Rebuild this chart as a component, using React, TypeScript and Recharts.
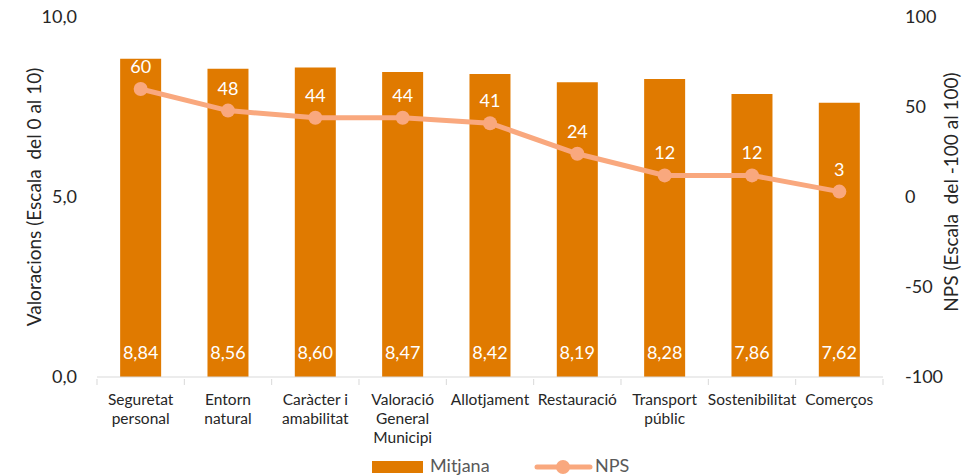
import React from "react";
import {
  ComposedChart,
  Bar,
  Line,
  XAxis,
  YAxis,
  LabelList,
  Legend,
} from "recharts";

const categories = [
  "Seguretat\npersonal",
  "Entorn\nnatural",
  "Caràcter i\namabilitat",
  "Valoració\nGeneral\nMunicipi",
  "Allotjament",
  "Restauració",
  "Transport\npúblic",
  "Sostenibilitat",
  "Comerços",
];
const mitjana = [8.84, 8.56, 8.6, 8.47, 8.42, 8.19, 8.28, 7.86, 7.62];
const nps = [60, 48, 44, 44, 41, 24, 12, 12, 3];
const leftTicks = [0, 5, 10];
const rightTicks = [-100, -50, 0, 50, 100];

const data = categories.map((c, i) => ({ cat: c, Mitjana: mitjana[i], NPS: nps[i] }));

const FONT = "Lato, 'Open Sans', sans-serif";
const BAR = "#E07A00";
const LINE = "#F9A87E";
const TEXT = "#262626";
const AXIS = "#D9D9D9";

const fmt1 = (v: number) => v.toFixed(1).replace(".", ",");
const fmt2 = (v: number) => v.toFixed(2).replace(".", ",");

const CatTick = (props: any) => {
  const { x, y, payload, index } = props;
  const lines = String(payload.value).split("\n");
  const half = 43.67;
  return (
    <g>
      <line x1={x - half} x2={x - half} y1={y - 6} y2={y} stroke={AXIS} />
      {index === categories.length - 1 && (
        <line x1={x + half} x2={x + half} y1={y - 6} y2={y} stroke={AXIS} />
      )}
      {lines.map((l, i) => (
        <text
          key={i}
          x={x}
          y={y + 20 + i * 19}
          textAnchor="middle"
          fontSize={15.5}
          fill={TEXT}
          fontFamily={FONT}
        >
          {l}
        </text>
      ))}
    </g>
  );
};

const BarValueLabel = (props: any) => {
  const { x, y, width, height, value } = props;
  return (
    <text
      x={x + width / 2}
      y={y + height - 18}
      textAnchor="middle"
      fontSize={18}
      fill="#FFFFFF"
      fontFamily={FONT}
    >
      {fmt2(value)}
    </text>
  );
};

const NpsLabel = (props: any) => {
  const { x, y, value } = props;
  return (
    <text
      x={x}
      y={y - 16}
      textAnchor="middle"
      fontSize={18}
      fill="#FFFFFF"
      fontFamily={FONT}
    >
      {value}
    </text>
  );
};

const LeftTitle = (props: any) => {
  const { viewBox } = props;
  const cx = viewBox.x + 33;
  const cy = viewBox.y + viewBox.height / 2;
  return (
    <text
      x={cx}
      y={cy}
      transform={`rotate(-90 ${cx} ${cy})`}
      textAnchor="middle"
      dominantBaseline="central"
      fontSize={19}
      fill={TEXT}
      fontFamily={FONT}
    >
      {"Valoracions (Escala\u00A0 del 0 al 10)"}
    </text>
  );
};

const RightTitle = (props: any) => {
  const { viewBox } = props;
  const cx = viewBox.x + 67;
  const cy = viewBox.y + viewBox.height / 2 - 5;
  return (
    <text
      x={cx}
      y={cy}
      transform={`rotate(-90 ${cx} ${cy})`}
      textAnchor="middle"
      dominantBaseline="central"
      fontSize={19}
      fill={TEXT}
      fontFamily={FONT}
    >
      {"NPS (Escala\u00A0 del -100 al 100)"}
    </text>
  );
};

const LegendContent = () => (
  <div style={{ height: 24, position: "relative" }}>
    <svg width={963} height={24} style={{ position: "absolute", left: 0, top: 0, overflow: "visible" }}>
      <rect x={372} y={9} width={51} height={12} fill={BAR} />
      <text x={430} y={20} fontSize={18} fill="#595959" fontFamily={FONT}>
        Mitjana
      </text>
      <line x1={537} x2={590} y1={15} y2={15} stroke={LINE} strokeWidth={5} strokeLinecap="round" />
      <circle cx={563} cy={15} r={7} fill={LINE} />
      <text x={595} y={20} fontSize={18} fill="#595959" fontFamily={FONT}>
        NPS
      </text>
    </svg>
  </div>
);

export default function App() {
  return (
    <div style={{ position: "absolute", left: 0, top: 0, width: 963, height: 476, background: "#fff" }}>
      <ComposedChart
        width={963}
        height={476}
        data={data}
        margin={{ top: 17, right: 0, bottom: 0, left: 0 }}
        barCategoryGap="26.5%"
      >
        <XAxis
          dataKey="cat"
          xAxisId="x"
          height={75}
          axisLine={{ stroke: AXIS }}
          tickLine={false}
          tick={<CatTick />}
          interval={0}
        />
        <YAxis
          yAxisId="left"
          orientation="left"
          width={97}
          domain={[0, 10]}
          ticks={leftTicks}
          tickFormatter={fmt1}
          axisLine={false}
          tickLine={false}
          tickMargin={14}
          tick={{ fontSize: 18, fill: TEXT, fontFamily: FONT }}
          label={<LeftTitle />}
        />
        <YAxis
          yAxisId="right"
          orientation="right"
          width={80}
          domain={[-100, 100]}
          ticks={rightTicks}
          axisLine={false}
          tickLine={false}
          tickMargin={16}
          tick={{ fontSize: 18, fill: TEXT, fontFamily: FONT, textAnchor: "start" }}
          label={<RightTitle />}
        />
        <Legend verticalAlign="bottom" content={<LegendContent />} />
        <Bar dataKey="Mitjana" xAxisId="x" yAxisId="left" fill={BAR} isAnimationActive={false}>
          <LabelList dataKey="Mitjana" content={<BarValueLabel />} />
        </Bar>
        <Line
          dataKey="NPS"
          xAxisId="x"
          yAxisId="right"
          stroke={LINE}
          strokeWidth={5}
          dot={{ r: 7, fill: LINE, stroke: LINE, strokeWidth: 0 }}
          isAnimationActive={false}
        >
          <LabelList dataKey="NPS" content={<NpsLabel />} />
        </Line>
      </ComposedChart>
    </div>
  );
}
